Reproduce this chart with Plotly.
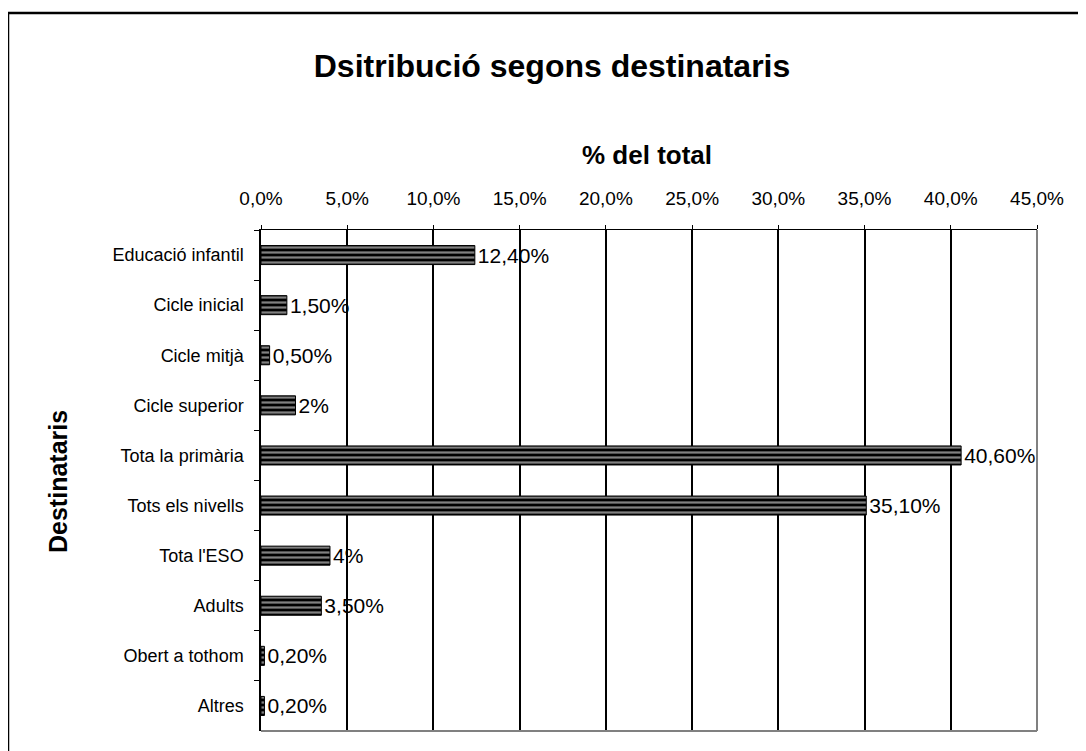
import plotly.graph_objects as go

categories = ["Educació infantil", "Cicle inicial", "Cicle mitjà", "Cicle superior",
              "Tota la primària", "Tots els nivells", "Tota l'ESO", "Adults",
              "Obert a tothom", "Altres"]
values = [12.4, 1.5, 0.5, 2.0, 40.6, 35.1, 4.0, 3.5, 0.2, 0.2]
labels = ["12,40%", "1,50%", "0,50%", "2%", "40,60%", "35,10%", "4%", "3,50%", "0,20%", "0,20%"]

FONT = "Liberation Sans, Arial, sans-serif"

# page body adds an 8px offset; positions below are in figure coordinates
OFF = 8
W, H = 1086, 751
L = 261 - OFF
T = 230 - OFF
PR = 1037 - OFF
PB = 731 - OFF
R = W - PR
B = H - PB
pw, ph = PR - L, PB - T

def px(x):
    return (x - OFF - L) / pw

def py(y):
    return (PB - (y - OFF)) / ph

fig = go.Figure()
fig.add_trace(go.Bar(
    y=categories, x=values, orientation="h",
    text=labels, textposition="outside", cliponaxis=False, constraintext="none",
    textfont=dict(family=FONT, size=21, color="black"),
    width=0.38,
    marker=dict(color="black", line=dict(color="black", width=1),
                pattern=dict(shape="-", fgcolor="white", bgcolor="black",
                             size=5, solidity=0.45, fillmode="overlay")),
    showlegend=False,
))

fig.update_layout(
    width=W, height=H,
    margin=dict(l=L, r=R, t=T, b=B),
    paper_bgcolor="white", plot_bgcolor="white",
    separators=",.",
    font=dict(family=FONT, size=18, color="black"),
    title=dict(text="<b>Dsitribució segons destinataris</b>",
               font=dict(family=FONT, size=32, color="black"),
               x=(552 - OFF) / W, xanchor="center", y=1 - (66 - OFF) / H, yanchor="middle",
               xref="container", yref="container"),
    annotations=[
        dict(text="<b>% del total</b>", xref="paper", yref="paper",
             x=px(647), y=py(155), xanchor="center", yanchor="middle",
             showarrow=False, font=dict(family=FONT, size=26, color="black")),
        dict(text="<b>Destinataris</b>", xref="paper", yref="paper",
             x=px(58), y=py(482), xanchor="center", yanchor="middle", textangle=-90,
             showarrow=False, font=dict(family=FONT, size=25, color="black")),
    ],
)
fig.update_xaxes(
    side="top", range=[0, 45], dtick=5, tick0=0,
    tickformat=".1f", ticksuffix="%",
    showgrid=True, gridcolor="black", gridwidth=1.5,
    showline=True, linecolor="black", linewidth=1,
    ticks="outside", ticklen=4, tickcolor="black",
    tickfont=dict(family=FONT, size=19),
    ticklabelstandoff=12,
    zeroline=False,
)
fig.update_yaxes(
    autorange="reversed", type="category",
    showline=True, linecolor="black", linewidth=1.5,
    ticks="outside", ticklen=5, tickcolor="black", tickson="boundaries",
    tickfont=dict(family=FONT, size=18),
    ticklabelstandoff=12,
    showgrid=False,
)

# plot-area right/bottom border (grey) and outer chart frame
fig.add_shape(type="line", xref="paper", yref="paper", x0=1, x1=1, y0=0, y1=1,
              line=dict(color="#808080", width=2))
fig.add_shape(type="line", xref="paper", yref="paper", x0=0, x1=1, y0=0, y1=0,
              line=dict(color="#808080", width=2))
fig.add_shape(type="line", xref="paper", yref="paper", x0=px(8), x1=px(1120), y0=py(13), y1=py(13),
              line=dict(color="black", width=2.5))
fig.add_shape(type="line", xref="paper", yref="paper", x0=px(8), x1=px(8), y0=py(13), y1=py(800),
              line=dict(color="black", width=2.5))

fig.write_html("out.html")
